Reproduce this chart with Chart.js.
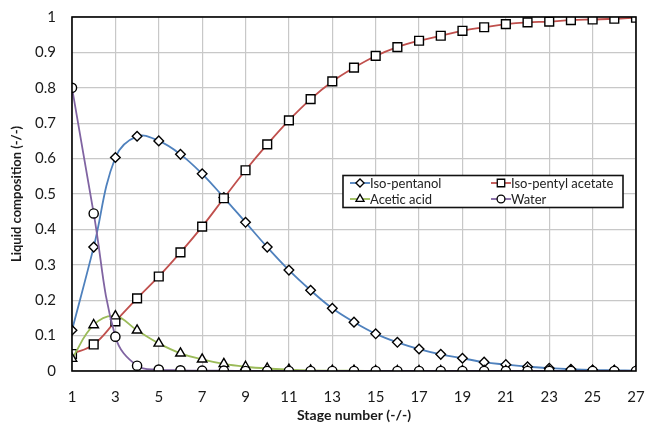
<!DOCTYPE html>
<html>
<head>
<meta charset="utf-8">
<script src="https://cdn.jsdelivr.net/npm/chart.js@4/dist/chart.umd.min.js"></script>
<style>
html,body{margin:0;padding:0;background:#fff;}
#wrap{width:646px;height:424px;position:relative;}
</style>
</head>
<body>
<div id="wrap"><canvas id="c" width="646" height="424"></canvas></div>
<script>
const stages = [1,2,3,4,5,6,7,8,9,10,11,12,13,14,15,16,17,18,19,20,21,22,23,24,25,26,27];
const isoPentanol = [0.115,0.35,0.603,0.663,0.65,0.612,0.557,0.49,0.42,0.35,0.285,0.228,0.177,0.138,0.105,0.081,0.062,0.047,0.036,0.025,0.018,0.012,0.008,0.005,0.003,0.002,0.001];
const isoPentylAcetate = [0.048,0.075,0.14,0.205,0.267,0.335,0.408,0.488,0.567,0.64,0.708,0.768,0.818,0.857,0.89,0.915,0.933,0.947,0.961,0.971,0.98,0.985,0.987,0.991,0.993,0.995,0.998];
const aceticAcid = [0.035,0.13,0.155,0.115,0.078,0.05,0.033,0.02,0.012,0.007,0.004,0.002,0.001,0.001,0,0,0,0,0,0,0,0,0,0,0,0,0];
const water = [0.80,0.445,0.097,0.015,0.004,0.002,0.001,0.001,0,0,0,0,0,0,0,0,0,0,0,0,0,0,0,0,0,0,0];
const seriesNames = ['Iso-pentanol','Iso-pentyl acetate','Acetic acid','Water'];
const yTicks = [0,0.1,0.2,0.3,0.4,0.5,0.6,0.7,0.8,0.9,1];

const FONT = 'Lato, "Open Sans", sans-serif';
function pts(v){ return stages.map((s,i)=>({x:s,y:v[i]})); }
function ds(label, data, color, style, r){
  return {label, data:pts(data), borderColor:color, backgroundColor:'#fff', borderWidth:1.8,
    pointStyle:style, pointRadius:r, pointHoverRadius:r, pointBorderColor:'#000', pointBackgroundColor:'#fff',
    pointBorderWidth:1.4, tension:0.4, fill:false};
}
const datasets = [
  ds(seriesNames[3], water, '#8064A2', 'circle', 4.6),
  ds(seriesNames[2], aceticAcid, '#9BBB59', 'triangle', 5.5),
  ds(seriesNames[1], isoPentylAcetate, '#C0504D', 'rect', 6.2),
  ds(seriesNames[0], isoPentanol, '#4F81BD', 'rectRot', 4.8)
];

const borderPlugin = {
  id:'border',
  afterDatasetsDraw(chart){
    const {ctx, chartArea:a} = chart;
    ctx.save();
    ctx.strokeStyle = '#000';
    ctx.lineWidth = 1.6;
    ctx.strokeRect(a.left, a.top, a.right-a.left, a.bottom-a.top);
    ctx.restore();
  }
};

const legendPlugin = {
  id:'customLegend',
  afterDraw(chart){
    const ctx = chart.ctx;
    const box = {x:343, y:175.5, w:280, h:32};
    ctx.save();
    ctx.fillStyle = '#fff';
    ctx.fillRect(box.x, box.y, box.w, box.h);
    ctx.strokeStyle = '#111';
    ctx.lineWidth = 1.6;
    ctx.strokeRect(box.x, box.y, box.w, box.h);
    const items = [
      {name:seriesNames[0], idx:3, x:350, y:183},
      {name:seriesNames[1], idx:2, x:491, y:183},
      {name:seriesNames[2], idx:1, x:350, y:199},
      {name:seriesNames[3], idx:0, x:491, y:199}
    ];
    items.forEach(it=>{
      const d = chart.data.datasets[it.idx];
      ctx.strokeStyle = d.borderColor;
      ctx.lineWidth = 1.8;
      ctx.beginPath(); ctx.moveTo(it.x, it.y); ctx.lineTo(it.x+20, it.y); ctx.stroke();
      ctx.lineWidth = 1.3;
      ctx.fillStyle = '#fff'; ctx.strokeStyle = '#000';
      const pr = d.pointRadius*0.85;
      Chart.helpers.drawPoint(ctx, {pointStyle:d.pointStyle, radius:pr, borderWidth:1.3}, it.x+10, it.y);
      ctx.fillStyle = '#222';
      ctx.font = '13px ' + FONT;
      ctx.textBaseline = 'middle';
      ctx.textAlign = 'left';
      ctx.fillText(it.name, it.x+20, it.y+0.5);
    });
    ctx.restore();
  }
};

new Chart(document.getElementById('c'), {
  type:'line',
  data:{datasets},
  options:{
    responsive:false,
    animation:false,
    devicePixelRatio:1,
    layout:{padding:{top:17, right:10, left:0, bottom:0}},
    plugins:{legend:{display:false}, tooltip:{enabled:false}},
    scales:{
      x:{
        type:'linear', min:1, max:27,
        afterBuildTicks(s){ s.ticks = stages.filter(v=>v%2===1).map(v=>({value:v})); },
        afterFit(s){ s.height = 53; s.paddingLeft = 0; s.paddingRight = 0; },
        grid:{color:'#c8c8c8', lineWidth:1.2, drawTicks:false},
        border:{display:false},
        ticks:{padding:17, color:'#1a1a1a', font:{family:FONT, size:15}, maxRotation:0, autoSkip:false},
        title:{display:true, text:'Stage number (-/-)', color:'#1a1a1a', font:{family:FONT, size:14, weight:'bold'}, padding:{top:5, bottom:0}}
      },
      y:{
        min:0, max:1,
        afterBuildTicks(s){ s.ticks = yTicks.map(v=>({value:v})); },
        afterFit(s){ s.width = 72; s.paddingTop = 0; s.paddingBottom = 0; },
        grid:{color:'#c8c8c8', lineWidth:1.2, drawTicks:false},
        border:{display:false},
        ticks:{padding:16, color:'#1a1a1a', font:{family:FONT, size:15}, callback:v=>String(v)},
        title:{display:true, text:'Liquid composition (-/-)', color:'#1a1a1a', font:{family:FONT, size:13, weight:'bold'}, padding:{top:9, bottom:4}}
      }
    }
  },
  plugins:[borderPlugin, legendPlugin]
});
</script>
</body>
</html>
